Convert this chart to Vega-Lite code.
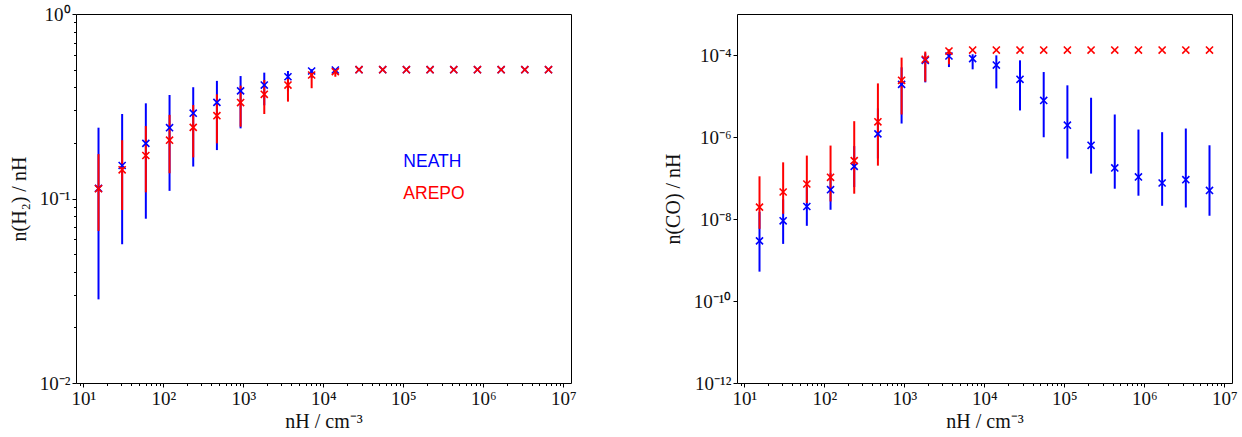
{
  "$schema": "https://vega.github.io/schema/vega-lite/v6.json",
  "padding": {"left": 8, "top": 4, "right": 5, "bottom": 2},
  "config": {
    "view": {"stroke": "#000000", "strokeWidth": 1},
    "axis": {
      "domain": false, "grid": false, "tickColor": "#000000", "tickWidth": 1,
      "labelFont": "Liberation Serif", "labelFontSize": 19, "labelColor": "#111111",
      "titleFont": "Liberation Serif", "titleFontSize": 20, "titleFontWeight": "normal", "titleColor": "#111111"
    }
  },
  "spacing": 166,
  "bounds": "flush",
  "datasets": {
    "h2": [
      {"series": "NEATH", "n": 15.5, "y": 0.1135, "lo": 0.0284, "hi": 0.242},
      {"series": "NEATH", "n": 30.6, "y": 0.151, "lo": 0.0565, "hi": 0.287},
      {"series": "NEATH", "n": 60.5, "y": 0.199, "lo": 0.0777, "hi": 0.328},
      {"series": "NEATH", "n": 119.7, "y": 0.242, "lo": 0.110, "hi": 0.364},
      {"series": "NEATH", "n": 236.6, "y": 0.290, "lo": 0.149, "hi": 0.401},
      {"series": "NEATH", "n": 467.7, "y": 0.332, "lo": 0.183, "hi": 0.434},
      {"series": "NEATH", "n": 924.7, "y": 0.383, "lo": 0.240, "hi": 0.461},
      {"series": "NEATH", "n": 1828, "y": 0.412, "lo": 0.32, "hi": 0.481},
      {"series": "NEATH", "n": 3614, "y": 0.457, "lo": 0.38, "hi": 0.491},
      {"series": "NEATH", "n": 7145, "y": 0.491, "lo": 0.45, "hi": 0.502},
      {"series": "NEATH", "n": 14125, "y": 0.497, "lo": 0.48, "hi": 0.5},
      {"series": "NEATH", "n": 27925, "y": 0.499, "lo": 0.498, "hi": 0.5},
      {"series": "NEATH", "n": 55208, "y": 0.499, "lo": 0.498, "hi": 0.5},
      {"series": "NEATH", "n": 109144, "y": 0.499, "lo": 0.498, "hi": 0.5},
      {"series": "NEATH", "n": 215774, "y": 0.499, "lo": 0.498, "hi": 0.5},
      {"series": "NEATH", "n": 426580, "y": 0.499, "lo": 0.498, "hi": 0.5},
      {"series": "NEATH", "n": 843335, "y": 0.499, "lo": 0.498, "hi": 0.5},
      {"series": "NEATH", "n": 1667247, "y": 0.499, "lo": 0.498, "hi": 0.5},
      {"series": "NEATH", "n": 3296097, "y": 0.499, "lo": 0.498, "hi": 0.5},
      {"series": "NEATH", "n": 6516284, "y": 0.499, "lo": 0.498, "hi": 0.5},
      {"series": "AREPO", "n": 15.5, "y": 0.113, "lo": 0.0667, "hi": 0.174},
      {"series": "AREPO", "n": 30.6, "y": 0.143, "lo": 0.0866, "hi": 0.207},
      {"series": "AREPO", "n": 60.5, "y": 0.171, "lo": 0.108, "hi": 0.247},
      {"series": "AREPO", "n": 119.7, "y": 0.207, "lo": 0.137, "hi": 0.284},
      {"series": "AREPO", "n": 236.6, "y": 0.243, "lo": 0.167, "hi": 0.321},
      {"series": "AREPO", "n": 467.7, "y": 0.281, "lo": 0.199, "hi": 0.367},
      {"series": "AREPO", "n": 924.7, "y": 0.331, "lo": 0.245, "hi": 0.409},
      {"series": "AREPO", "n": 1828, "y": 0.367, "lo": 0.287, "hi": 0.439},
      {"series": "AREPO", "n": 3614, "y": 0.412, "lo": 0.335, "hi": 0.445},
      {"series": "AREPO", "n": 7145, "y": 0.467, "lo": 0.396, "hi": 0.48},
      {"series": "AREPO", "n": 14125, "y": 0.487, "lo": 0.457, "hi": 0.495},
      {"series": "AREPO", "n": 27925, "y": 0.499, "lo": 0.498, "hi": 0.5},
      {"series": "AREPO", "n": 55208, "y": 0.499, "lo": 0.498, "hi": 0.5},
      {"series": "AREPO", "n": 109144, "y": 0.499, "lo": 0.498, "hi": 0.5},
      {"series": "AREPO", "n": 215774, "y": 0.499, "lo": 0.498, "hi": 0.5},
      {"series": "AREPO", "n": 426580, "y": 0.499, "lo": 0.498, "hi": 0.5},
      {"series": "AREPO", "n": 843335, "y": 0.499, "lo": 0.498, "hi": 0.5},
      {"series": "AREPO", "n": 1667247, "y": 0.499, "lo": 0.498, "hi": 0.5},
      {"series": "AREPO", "n": 3296097, "y": 0.499, "lo": 0.498, "hi": 0.5},
      {"series": "AREPO", "n": 6516284, "y": 0.499, "lo": 0.498, "hi": 0.5}
    ],
    "co": [
      {"series": "NEATH", "n": 15.5, "y": 2.93e-9, "lo": 5.2e-10, "hi": 1.5e-8},
      {"series": "NEATH", "n": 30.6, "y": 9.03e-9, "lo": 2.47e-9, "hi": 3e-8},
      {"series": "NEATH", "n": 60.5, "y": 2.02e-8, "lo": 6.82e-9, "hi": 6e-8},
      {"series": "NEATH", "n": 119.7, "y": 5.18e-8, "lo": 1.68e-8, "hi": 1.3e-7},
      {"series": "NEATH", "n": 236.6, "y": 1.92e-7, "lo": 6e-8, "hi": 6e-7},
      {"series": "NEATH", "n": 467.7, "y": 1.19e-6, "lo": 3e-7, "hi": 5e-6},
      {"series": "NEATH", "n": 924.7, "y": 1.92e-5, "lo": 2.13e-6, "hi": 5e-5},
      {"series": "NEATH", "n": 1828, "y": 7.41e-5, "lo": 2.15e-5, "hi": 1.1e-4},
      {"series": "NEATH", "n": 3614, "y": 9.46e-5, "lo": 5.08e-5, "hi": 1.15e-4},
      {"series": "NEATH", "n": 7145, "y": 8.16e-5, "lo": 4.47e-5, "hi": 1.04e-4},
      {"series": "NEATH", "n": 14125, "y": 5.69e-5, "lo": 1.53e-5, "hi": 9.8e-5},
      {"series": "NEATH", "n": 27925, "y": 2.55e-5, "lo": 4.44e-6, "hi": 7.41e-5},
      {"series": "NEATH", "n": 55208, "y": 7.8e-6, "lo": 9.86e-7, "hi": 3.84e-5},
      {"series": "NEATH", "n": 109144, "y": 1.94e-6, "lo": 2.97e-7, "hi": 1.82e-5},
      {"series": "NEATH", "n": 215774, "y": 6.28e-7, "lo": 1.28e-7, "hi": 9.07e-6},
      {"series": "NEATH", "n": 426580, "y": 1.76e-7, "lo": 5.48e-8, "hi": 3.54e-6},
      {"series": "NEATH", "n": 843335, "y": 1.06e-7, "lo": 3.7e-8, "hi": 1.52e-6},
      {"series": "NEATH", "n": 1667247, "y": 7.55e-8, "lo": 2.1e-8, "hi": 1.31e-6},
      {"series": "NEATH", "n": 3296097, "y": 9.1e-8, "lo": 1.91e-8, "hi": 1.61e-6},
      {"series": "NEATH", "n": 6516284, "y": 4.98e-8, "lo": 1.2e-8, "hi": 6.28e-7},
      {"series": "AREPO", "n": 15.5, "y": 1.95e-8, "lo": 5.76e-9, "hi": 1.1e-7},
      {"series": "AREPO", "n": 30.6, "y": 4.55e-8, "lo": 1.34e-8, "hi": 2.41e-7},
      {"series": "AREPO", "n": 60.5, "y": 7.14e-8, "lo": 2.45e-8, "hi": 3.52e-7},
      {"series": "AREPO", "n": 119.7, "y": 1.04e-7, "lo": 2.68e-8, "hi": 6.18e-7},
      {"series": "AREPO", "n": 236.6, "y": 2.65e-7, "lo": 4.14e-8, "hi": 2.43e-6},
      {"series": "AREPO", "n": 467.7, "y": 2.35e-6, "lo": 2.0e-7, "hi": 2.03e-5},
      {"series": "AREPO", "n": 924.7, "y": 2.41e-5, "lo": 3.54e-6, "hi": 8.63e-5},
      {"series": "AREPO", "n": 1828, "y": 7.85e-5, "lo": 2.24e-5, "hi": 1.21e-4},
      {"series": "AREPO", "n": 3614, "y": 1.25e-4, "lo": 5.92e-5, "hi": 1.38e-4},
      {"series": "AREPO", "n": 7145, "y": 1.32e-4, "lo": 1.3e-4, "hi": 1.34e-4},
      {"series": "AREPO", "n": 14125, "y": 1.32e-4, "lo": 1.3e-4, "hi": 1.34e-4},
      {"series": "AREPO", "n": 27925, "y": 1.32e-4, "lo": 1.3e-4, "hi": 1.34e-4},
      {"series": "AREPO", "n": 55208, "y": 1.32e-4, "lo": 1.3e-4, "hi": 1.34e-4},
      {"series": "AREPO", "n": 109144, "y": 1.32e-4, "lo": 1.3e-4, "hi": 1.34e-4},
      {"series": "AREPO", "n": 215774, "y": 1.32e-4, "lo": 1.3e-4, "hi": 1.34e-4},
      {"series": "AREPO", "n": 426580, "y": 1.32e-4, "lo": 1.3e-4, "hi": 1.34e-4},
      {"series": "AREPO", "n": 843335, "y": 1.32e-4, "lo": 1.3e-4, "hi": 1.34e-4},
      {"series": "AREPO", "n": 1667247, "y": 1.32e-4, "lo": 1.3e-4, "hi": 1.34e-4},
      {"series": "AREPO", "n": 3296097, "y": 1.32e-4, "lo": 1.3e-4, "hi": 1.34e-4},
      {"series": "AREPO", "n": 6516284, "y": 1.32e-4, "lo": 1.3e-4, "hi": 1.34e-4}
    ]
  },
  "hconcat": [
    {
      "width": 495, "height": 369,
      "data": {"name": "h2"},
      "resolve": {"axis": {"x": "independent", "y": "independent"}},
      "layer": [
        {
          "mark": {"type": "rule", "strokeWidth": 2},
          "encoding": {
            "x": {"field": "n", "type": "quantitative",
              "scale": {"type": "log", "domain": [8.11, 12450000], "nice": false},
              "axis": {"orient": "bottom", "values": [10, 100, 1000, 10000, 100000, 1000000, 10000000], "tickSize": 4, "labelPadding": 2, "title": "nH / cm⁻³", "titlePadding": 3,
                "labelExpr": "'10' + (round(log(datum.value)/LN10) < 0 ? '⁻' : '') + (abs(round(log(datum.value)/LN10)) >= 10 ? substring('⁰¹²³⁴⁵⁶⁷⁸⁹', floor(abs(round(log(datum.value)/LN10))/10), floor(abs(round(log(datum.value)/LN10))/10)+1) : '') + substring('⁰¹²³⁴⁵⁶⁷⁸⁹', abs(round(log(datum.value)/LN10))%10, abs(round(log(datum.value)/LN10))%10+1)"}},
            "y": {"field": "lo", "type": "quantitative",
              "scale": {"type": "log", "domain": [0.01, 1], "nice": false},
              "axis": {"orient": "left", "values": [0.01, 0.1, 1], "tickSize": 4, "labelPadding": 2, "title": "n(H₂) / nH", "titlePadding": 10,
                "labelExpr": "'10' + (round(log(datum.value)/LN10) < 0 ? '⁻' : '') + (abs(round(log(datum.value)/LN10)) >= 10 ? substring('⁰¹²³⁴⁵⁶⁷⁸⁹', floor(abs(round(log(datum.value)/LN10))/10), floor(abs(round(log(datum.value)/LN10))/10)+1) : '') + substring('⁰¹²³⁴⁵⁶⁷⁸⁹', abs(round(log(datum.value)/LN10))%10, abs(round(log(datum.value)/LN10))%10+1)"}},
            "y2": {"field": "hi"},
            "color": {"field": "series", "type": "nominal", "scale": {"domain": ["NEATH", "AREPO"], "range": ["#0000ff", "#ff0000"]}, "legend": null}
          }
        },
        {
          "mark": {"type": "point", "shape": "M-1,-1L1,1M-1,1L1,-1", "filled": false, "strokeWidth": 1.6, "size": 50, "opacity": 1},
          "encoding": {
            "x": {"field": "n", "type": "quantitative",
              "axis": {"orient": "bottom", "values": [9, 20, 30, 40, 50, 60, 70, 80, 90, 200, 300, 400, 500, 600, 700, 800, 900, 2000, 3000, 4000, 5000, 6000, 7000, 8000, 9000, 20000, 30000, 40000, 50000, 60000, 70000, 80000, 90000, 200000, 300000, 400000, 500000, 600000, 700000, 800000, 900000, 2000000, 3000000, 4000000, 5000000, 6000000, 7000000, 8000000, 9000000], "tickSize": 2.5, "labels": false, "title": null}},
            "y": {"field": "y", "type": "quantitative",
              "axis": {"orient": "left", "values": [0.02, 0.03, 0.04, 0.05, 0.06, 0.07, 0.08, 0.09, 0.2, 0.3, 0.4, 0.5, 0.6, 0.7, 0.8, 0.9], "tickSize": 2.5, "labels": false, "title": null}},
            "color": {"field": "series", "type": "nominal", "legend": null}
          }
        },
        {
          "data": {"values": [
            {"n": 100000, "y": 0.149, "label": "NEATH", "series": "NEATH"},
            {"n": 100000, "y": 0.0993, "label": "AREPO", "series": "AREPO"}
          ]},
          "mark": {"type": "text", "align": "left", "baseline": "alphabetic", "font": "Liberation Sans", "fontSize": 17.5},
          "encoding": {
            "x": {"field": "n", "type": "quantitative", "axis": null},
            "y": {"field": "y", "type": "quantitative", "axis": null},
            "text": {"field": "label"},
            "color": {"field": "series", "type": "nominal", "legend": null}
          }
        }
      ]
    },
    {
      "width": 495, "height": 369,
      "data": {"name": "co"},
      "resolve": {"axis": {"x": "independent", "y": "independent"}},
      "layer": [
        {
          "mark": {"type": "rule", "strokeWidth": 2},
          "encoding": {
            "x": {"field": "n", "type": "quantitative",
              "scale": {"type": "log", "domain": [8.11, 12450000], "nice": false},
              "axis": {"orient": "bottom", "values": [10, 100, 1000, 10000, 100000, 1000000, 10000000], "tickSize": 4, "labelPadding": 2, "title": "nH / cm⁻³", "titlePadding": 3,
                "labelExpr": "'10' + (round(log(datum.value)/LN10) < 0 ? '⁻' : '') + (abs(round(log(datum.value)/LN10)) >= 10 ? substring('⁰¹²³⁴⁵⁶⁷⁸⁹', floor(abs(round(log(datum.value)/LN10))/10), floor(abs(round(log(datum.value)/LN10))/10)+1) : '') + substring('⁰¹²³⁴⁵⁶⁷⁸⁹', abs(round(log(datum.value)/LN10))%10, abs(round(log(datum.value)/LN10))%10+1)"}},
            "y": {"field": "lo", "type": "quantitative",
              "scale": {"type": "log", "domain": [1e-12, 1e-3], "nice": false},
              "axis": {"orient": "left", "values": [1e-12, 1e-10, 1e-8, 1e-6, 1e-4], "tickSize": 4, "labelPadding": 2, "title": "n(CO) / nH", "titlePadding": 10,
                "labelExpr": "'10' + (round(log(datum.value)/LN10) < 0 ? '⁻' : '') + (abs(round(log(datum.value)/LN10)) >= 10 ? substring('⁰¹²³⁴⁵⁶⁷⁸⁹', floor(abs(round(log(datum.value)/LN10))/10), floor(abs(round(log(datum.value)/LN10))/10)+1) : '') + substring('⁰¹²³⁴⁵⁶⁷⁸⁹', abs(round(log(datum.value)/LN10))%10, abs(round(log(datum.value)/LN10))%10+1)"}},
            "y2": {"field": "hi"},
            "color": {"field": "series", "type": "nominal", "scale": {"domain": ["NEATH", "AREPO"], "range": ["#0000ff", "#ff0000"]}, "legend": null}
          }
        },
        {
          "mark": {"type": "point", "shape": "M-1,-1L1,1M-1,1L1,-1", "filled": false, "strokeWidth": 1.6, "size": 50, "opacity": 1},
          "encoding": {
            "x": {"field": "n", "type": "quantitative",
              "axis": {"orient": "bottom", "values": [9, 20, 30, 40, 50, 60, 70, 80, 90, 200, 300, 400, 500, 600, 700, 800, 900, 2000, 3000, 4000, 5000, 6000, 7000, 8000, 9000, 20000, 30000, 40000, 50000, 60000, 70000, 80000, 90000, 200000, 300000, 400000, 500000, 600000, 700000, 800000, 900000, 2000000, 3000000, 4000000, 5000000, 6000000, 7000000, 8000000, 9000000], "tickSize": 2.5, "labels": false, "title": null}},
            "y": {"field": "y", "type": "quantitative", "axis": null},
            "color": {"field": "series", "type": "nominal", "legend": null}
          }
        }
      ]
    }
  ]
}
